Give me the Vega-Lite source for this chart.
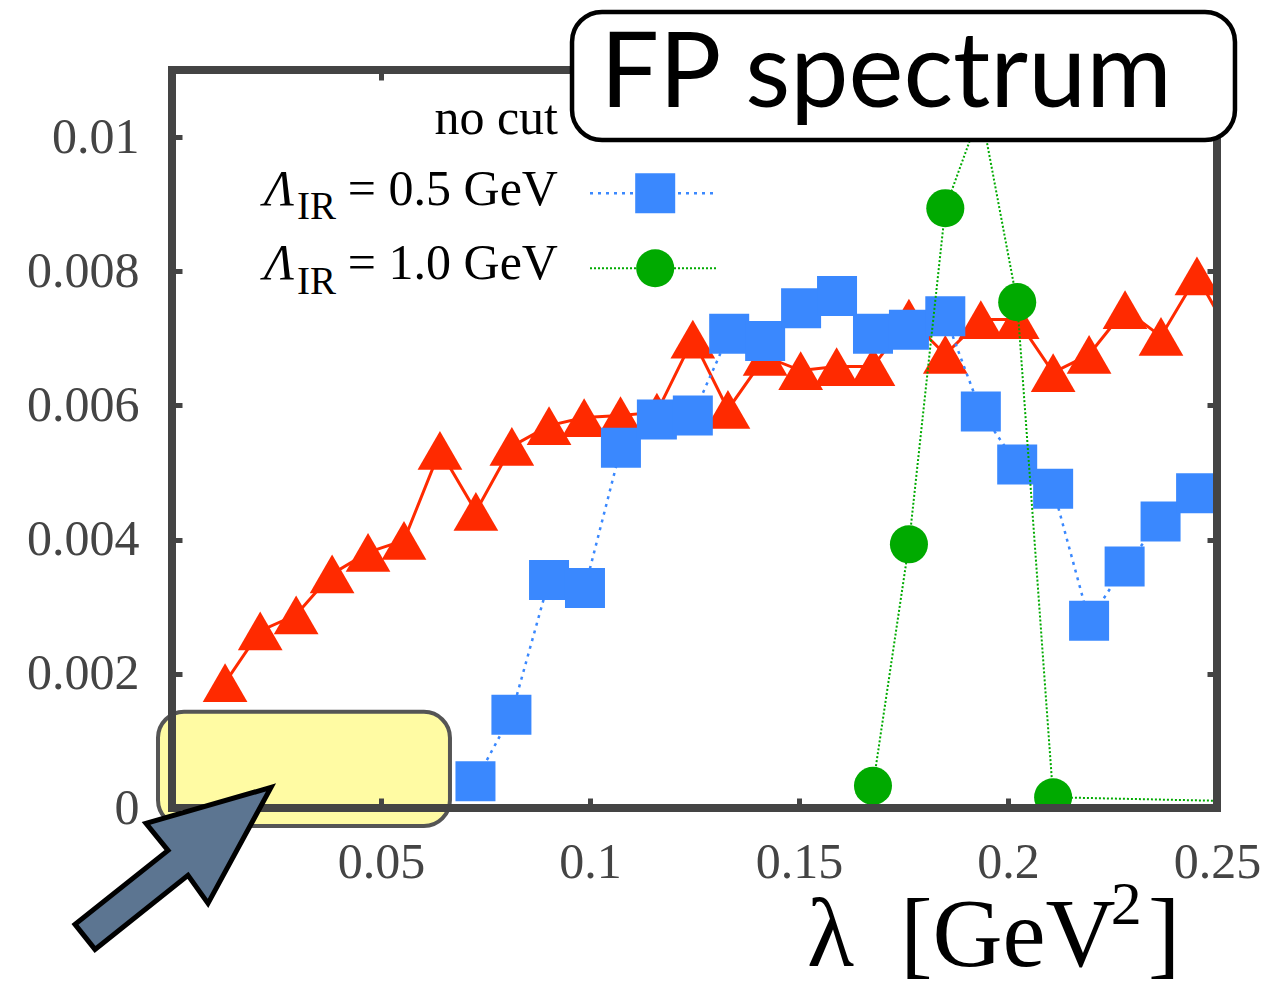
{
  "$schema": "https://vega.github.io/schema/vega-lite/v6.json",
  "width": 1045,
  "height": 738,
  "autosize": {"type": "none"},
  "padding": {"left": 172, "top": 70, "right": 56, "bottom": 181},
  "background": "white",
  "config": {"view": {"stroke": null}},
  "datasets": {
    "red": [
      {"x": 0.0127, "y": 0.00187}, {"x": 0.0211, "y": 0.00264}, {"x": 0.0297, "y": 0.00288},
      {"x": 0.0383, "y": 0.00349}, {"x": 0.0469, "y": 0.00381}, {"x": 0.0555, "y": 0.00399},
      {"x": 0.0641, "y": 0.00533}, {"x": 0.0727, "y": 0.00442}, {"x": 0.0813, "y": 0.00539},
      {"x": 0.0902, "y": 0.0057}, {"x": 0.0986, "y": 0.00582}, {"x": 0.1073, "y": 0.00585},
      {"x": 0.116, "y": 0.0059}, {"x": 0.1246, "y": 0.00699}, {"x": 0.133, "y": 0.00594},
      {"x": 0.1419, "y": 0.00673}, {"x": 0.1504, "y": 0.00652}, {"x": 0.159, "y": 0.00658},
      {"x": 0.1677, "y": 0.00658}, {"x": 0.1763, "y": 0.0073}, {"x": 0.185, "y": 0.00676},
      {"x": 0.1935, "y": 0.00728}, {"x": 0.2022, "y": 0.00728}, {"x": 0.2108, "y": 0.00649},
      {"x": 0.2194, "y": 0.00676}, {"x": 0.228, "y": 0.00743}, {"x": 0.2366, "y": 0.00703},
      {"x": 0.2452, "y": 0.00793}, {"x": 0.2545, "y": 0.0069}
    ],
    "blue": [
      {"x": 0.0726, "y": 0.0004}, {"x": 0.0812, "y": 0.00139}, {"x": 0.0902, "y": 0.0034},
      {"x": 0.0988, "y": 0.00328}, {"x": 0.1074, "y": 0.00537}, {"x": 0.116, "y": 0.00579},
      {"x": 0.1246, "y": 0.00585}, {"x": 0.1333, "y": 0.00707}, {"x": 0.1419, "y": 0.00696},
      {"x": 0.1505, "y": 0.00745}, {"x": 0.1591, "y": 0.00763}, {"x": 0.1677, "y": 0.00707},
      {"x": 0.1763, "y": 0.00713}, {"x": 0.185, "y": 0.00733}, {"x": 0.1935, "y": 0.00591},
      {"x": 0.2022, "y": 0.00512}, {"x": 0.2108, "y": 0.00476}, {"x": 0.2194, "y": 0.00279},
      {"x": 0.2279, "y": 0.0036}, {"x": 0.2365, "y": 0.00427}, {"x": 0.245, "y": 0.00469}
    ],
    "green": [
      {"x": 0.1677, "y": 0.00033}, {"x": 0.1763, "y": 0.00393}, {"x": 0.185, "y": 0.00894},
      {"x": 0.1935, "y": 0.0104}, {"x": 0.2022, "y": 0.00754}, {"x": 0.2108, "y": 0.00016},
      {"x": 0.33, "y": 0.0}
    ]
  },
  "encoding": {
    "x": {"field": "x", "type": "quantitative", "scale": {"domain": [0, 0.25], "nice": false, "zero": false}, "axis": null},
    "y": {"field": "y", "type": "quantitative", "scale": {"domain": [0, 0.011], "nice": false, "zero": false}, "axis": null}
  },
  "layer": [
    {
      "data": {"name": "red"},
      "mark": {"type": "line", "color": "#ff2a00", "strokeWidth": 3, "clip": true},
      "encoding": {
        "x": {"field": "x", "type": "quantitative", "scale": {"domain": [0, 0.25], "nice": false, "zero": false},
          "axis": {"orient": "bottom", "values": [0.05, 0.1, 0.15, 0.2, 0.25], "format": "~g", "title": null, "domain": false, "grid": false,
            "tickSize": -10, "tickWidth": 5, "tickColor": "#444", "labelFont": "Liberation Serif", "labelFontSize": 50, "labelColor": "#444",
            "labelPadding": 39, "zindex": 1, "labelFlush": false, "labelOverlap": false}},
        "y": {"field": "y", "type": "quantitative", "scale": {"domain": [0, 0.011], "nice": false, "zero": false},
          "axis": {"orient": "left", "values": [0, 0.002, 0.004, 0.006, 0.008, 0.01], "format": "~g", "title": null, "domain": false, "grid": false,
            "tickSize": -10, "tickWidth": 5, "tickColor": "#444", "labelFont": "Liberation Serif", "labelFontSize": 50, "labelColor": "#444",
            "labelPadding": 43, "zindex": 1, "labelFlush": false, "labelOverlap": false}}
      }
    },
    {
      "data": {"name": "red"},
      "mark": {"type": "point", "shape": "triangle-up", "filled": true, "opacity": 1, "color": "#ff2a00", "size": 2000, "clip": true}
    },
    {
      "data": {"name": "blue"},
      "mark": {"type": "line", "color": "#3a88fe", "strokeWidth": 2.5, "strokeDash": [3, 5], "clip": true},
      "encoding": {
        "x": {"field": "x", "type": "quantitative", "scale": {"domain": [0, 0.25], "nice": false, "zero": false},
          "axis": {"orient": "top", "values": [0.05], "labels": false, "title": null, "domain": false, "grid": false,
            "tickSize": -10, "tickWidth": 5, "tickColor": "#444", "zindex": 1}},
        "y": {"field": "y", "type": "quantitative", "scale": {"domain": [0, 0.011], "nice": false, "zero": false},
          "axis": {"orient": "right", "values": [0.002, 0.004, 0.006, 0.008], "labels": false, "title": null, "domain": false, "grid": false,
            "tickSize": -10, "tickWidth": 5, "tickColor": "#444", "zindex": 1}}
      }
    },
    {
      "data": {"name": "blue"},
      "mark": {"type": "point", "shape": "square", "filled": true, "opacity": 1, "color": "#3a88fe", "size": 1600, "clip": true}
    },
    {
      "data": {"name": "green"},
      "mark": {"type": "line", "color": "#00aa00", "strokeWidth": 2, "strokeDash": [2, 2], "clip": true}
    },
    {
      "data": {"name": "green"},
      "mark": {"type": "point", "shape": "circle", "filled": true, "opacity": 1, "color": "#00aa00", "size": 1450, "clip": true}
    },
    {
      "data": {"values": [{"x": -0.00335, "x2": 0.0665, "y": 0.001433, "y2": -0.000269}]},
      "mark": {"type": "rect", "fill": "#fffba3", "stroke": "#555555", "strokeWidth": 4, "cornerRadius": 26},
      "encoding": {"x2": {"field": "x2"}, "y2": {"field": "y2"}}
    },
    {
      "data": {"values": [{"x": 0, "x2": 0.25, "y": 0, "y2": 0.011}]},
      "mark": {"type": "rect", "fill": null, "fillOpacity": 0, "stroke": "#444444", "strokeWidth": 8},
      "encoding": {"x2": {"field": "x2"}, "y2": {"field": "y2"}}
    },
    {
      "data": {"values": [{"x": 0.00024, "y": -0.0009}]},
      "mark": {"type": "point", "shape": "M0.98,-0.81L-0.27,-0.45L-0.05,-0.18L-0.98,0.56L-0.78,0.81L0.15,0.07L0.35,0.35Z", "size": 40000, "filled": true, "fill": "#5c7591", "stroke": "#000000", "strokeWidth": 5, "opacity": 1, "strokeJoin": "miter"}
    },
    {
      "data": {"values": [{"x": 0.0957, "x2": 0.2543, "y": 0.009955, "y2": 0.011866}]},
      "mark": {"type": "rect", "fill": "#ffffff", "stroke": "#000000", "strokeWidth": 4.5, "cornerRadius": 30},
      "encoding": {"x2": {"field": "x2"}, "y2": {"field": "y2"}}
    },
    {
      "data": {"values": [{"x": 0.1708, "y": 0.01045, "t": "FP spectrum"}]},
      "mark": {"type": "text", "font": "Lato", "fontSize": 104, "color": "#000000", "align": "center", "baseline": "alphabetic"},
      "encoding": {"text": {"field": "t"}}
    },
    {
      "data": {"values": [{"x": 0.1, "y": 0.009164}, {"x": 0.1306, "y": 0.009164}]},
      "mark": {"type": "line", "color": "#3a88fe", "strokeWidth": 2.5, "strokeDash": [3, 5]}
    },
    {
      "data": {"values": [{"x": 0.1156, "y": 0.009164}]},
      "mark": {"type": "point", "shape": "square", "filled": true, "opacity": 1, "color": "#3a88fe", "size": 1600}
    },
    {
      "data": {"values": [{"x": 0.1, "y": 0.008045}, {"x": 0.1306, "y": 0.008045}]},
      "mark": {"type": "line", "color": "#00aa00", "strokeWidth": 2, "strokeDash": [2, 2]}
    },
    {
      "data": {"values": [{"x": 0.1156, "y": 0.008045}]},
      "mark": {"type": "point", "shape": "circle", "filled": true, "opacity": 1, "color": "#00aa00", "size": 1450}
    },
    {
      "data": {"values": [
        {"x": 0.09234, "y": 0.010045, "t": "no cut"},
        {"x": 0.09234, "y": 0.00899, "t": "= 0.5 GeV"},
        {"x": 0.09234, "y": 0.00788, "t": "= 1.0 GeV"}
      ]},
      "mark": {"type": "text", "font": "Liberation Serif", "fontSize": 50, "color": "#000000", "align": "right", "baseline": "alphabetic"},
      "encoding": {"text": {"field": "t"}}
    },
    {
      "data": {"values": [
        {"x": 0.022, "y": 0.00899, "t": "Λ"},
        {"x": 0.022, "y": 0.00788, "t": "Λ"}
      ]},
      "mark": {"type": "text", "font": "Liberation Serif", "fontStyle": "italic", "fontSize": 50, "color": "#000000", "align": "left", "baseline": "alphabetic"},
      "encoding": {"text": {"field": "t"}}
    },
    {
      "data": {"values": [
        {"x": 0.0299, "y": 0.008776, "t": "IR"},
        {"x": 0.0299, "y": 0.007657, "t": "IR"}
      ]},
      "mark": {"type": "text", "font": "Liberation Serif", "fontSize": 39, "color": "#000000", "align": "left", "baseline": "alphabetic"},
      "encoding": {"text": {"field": "t"}}
    },
    {
      "data": {"values": [
        {"x": 0.1519, "y": -0.002358, "t": "λ"},
        {"x": 0.1742, "y": -0.002358, "t": "[GeV"},
        {"x": 0.2335, "y": -0.002358, "t": "]"}
      ]},
      "mark": {"type": "text", "font": "Liberation Serif", "fontSize": 97, "color": "#000000", "align": "left", "baseline": "alphabetic"},
      "encoding": {"text": {"field": "t"}}
    },
    {
      "data": {"values": [{"x": 0.2246, "y": -0.00173, "t": "2"}]},
      "mark": {"type": "text", "font": "Liberation Serif", "fontSize": 62, "color": "#000000", "align": "left", "baseline": "alphabetic"},
      "encoding": {"text": {"field": "t"}}
    }
  ],
  "resolve": {"axis": {"x": "independent", "y": "independent"}}
}
